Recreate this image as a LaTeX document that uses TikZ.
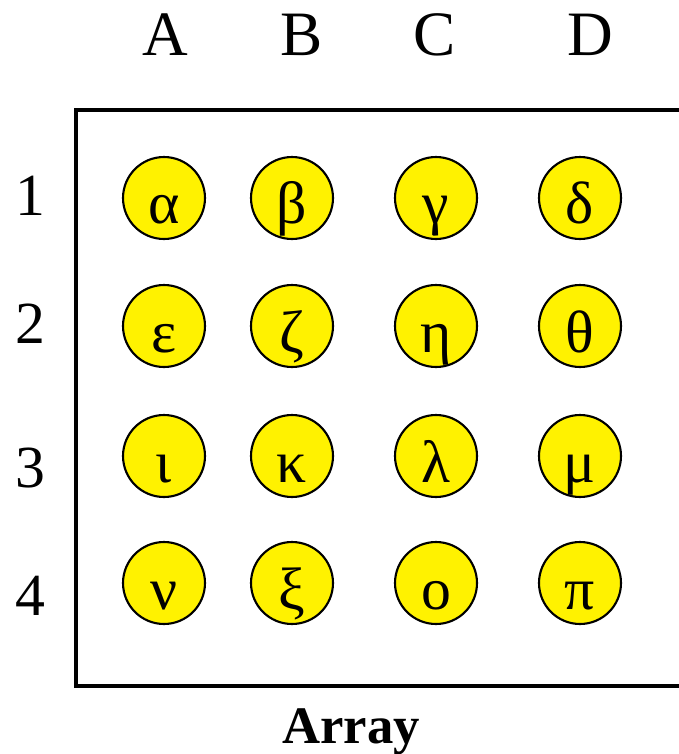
\documentclass[tikz,border=0pt]{standalone}
\usepackage{fontspec}
\setmainfont{Liberation Serif}
\usetikzlibrary{positioning}

\begin{document}
\begin{tikzpicture}[
  x=0.02cm, y=-0.02cm,
  ball/.style={draw, circle, fill=yellow, line width=1.2pt, minimum size=1.64cm,
    inner sep=0pt, text height=1.04cm, text depth=0pt, font=\fontsize{34}{40}\selectfont},
  head/.style={anchor=base, font=\fontsize{36}{40}\selectfont},
  frame/.style={line width=2.8pt}]
\clip (0,0) rectangle (679,754);
\fill[white] (0,0) rectangle (679,754);
% Rahmen
\draw[frame] (76,110) rectangle (720,686);
% Spalten und Zeilen
\foreach \c/\x in {A/165,B/302,C/435,D/590}
  \node[head] (col\c) at (\x,55) {\c};
\foreach \r/\y in {1/215,2/343,3/487,4/615}
  \node[head, font=\fontsize{34}{40}\selectfont] (row\r) at (30,\y) {\r};
% Elemente
\foreach \g/\x [count=\c] in {α/164,β/292,γ/436,δ/580}
  \node[ball] (b1\c) at (\x,198) {\g};
\foreach \g/\x [count=\c] in {ε/164,ζ/292,η/436,θ/580}
  \node[ball] (b2\c) at (\x,326) {\g};
\foreach \g/\x [count=\c] in {ι/164,κ/292,λ/436,μ/580}
  \node[ball] (b3\c) at (\x,456) {\g};
\foreach \g/\x [count=\c] in {ν/164,ξ/292,ο/436,π/580}
  \node[ball] (b4\c) at (\x,583) {\g};
\node[anchor=base, font=\bfseries\fontsize{30}{36}\selectfont] (title) at (351,743) {Array};
\end{tikzpicture}
\end{document}
